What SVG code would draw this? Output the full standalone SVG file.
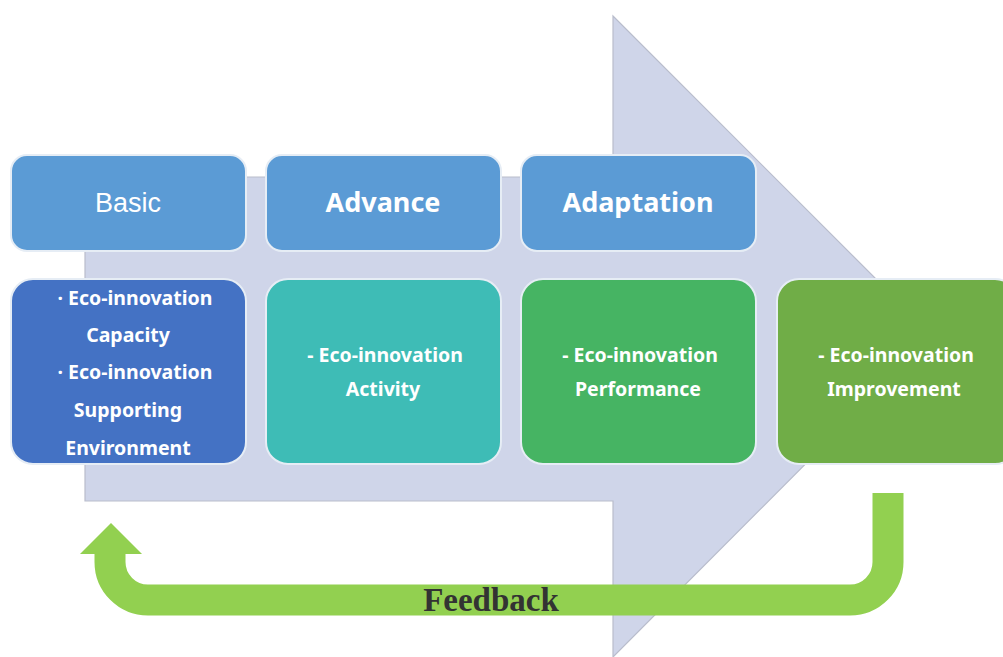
<svg xmlns="http://www.w3.org/2000/svg" width="1003" height="657" viewBox="0 0 1003 657">
<style>
.box{stroke:#e6edf5;stroke-width:2}
.top{fill:#5b9bd5}
.hd{font-family:"Noto Sans","Liberation Sans",sans-serif;font-weight:bold;font-size:27px;fill:#ffffff;text-anchor:middle}
.bd{font-family:"Noto Sans","Liberation Sans",sans-serif;font-weight:bold;font-size:19.5px;fill:#ffffff;text-anchor:middle}
</style>
<rect width="1003" height="657" fill="#ffffff"/>
<g id="bigarrow">
<polygon points="85,177 613,177 613,16 933,336 613,657 613,501 85,501" fill="#cfd5e9" stroke="#b9bdcc" stroke-width="1.2"/>
</g>
<g id="connectors">
<path d="M888,493 V562 A38,38 0 0 1 850,600 H148 A38,38 0 0 1 110,562 V552" fill="none" stroke="#92d050" stroke-width="31"/>
<polygon points="80,554 111,523 142,554" fill="#92d050"/>
<text x="491" y="611" font-family="Liberation Serif,serif" font-weight="bold" font-size="33" fill="#333333" text-anchor="middle">Feedback</text>
</g>
<g id="basic">
<rect class="box top" x="11" y="155" width="235" height="96" rx="16"/>
<text x="128" y="212" font-family="Liberation Sans,Arial,sans-serif" font-size="27" fill="#ffffff" text-anchor="middle">Basic</text>
</g>
<g id="advance">
<rect class="box top" x="266" y="155" width="235" height="96" rx="16"/>
<text class="hd" x="383" y="212">Advance</text>
</g>
<g id="adaptation">
<rect class="box top" x="521" y="155" width="235" height="96" rx="16"/>
<text class="hd" x="638" y="212">Adaptation</text>
</g>
<g id="capacity">
<rect class="box" x="11" y="279" width="235" height="185" rx="22" fill="#4472c4"/>
<text class="bd" x="135" y="305">· Eco-innovation</text>
<text class="bd" x="128" y="342">Capacity</text>
<text class="bd" x="135" y="379">· Eco-innovation</text>
<text class="bd" x="128" y="417">Supporting</text>
<text class="bd" x="128" y="455">Environment</text>
</g>
<g id="activity">
<rect class="box" x="266" y="279" width="235" height="185" rx="22" fill="#3ebcb6"/>
<text class="bd" x="385" y="362">- Eco-innovation</text>
<text class="bd" x="383" y="396">Activity</text>
</g>
<g id="performance">
<rect class="box" x="521" y="279" width="235" height="185" rx="22" fill="#46b463"/>
<text class="bd" x="640" y="362">- Eco-innovation</text>
<text class="bd" x="638" y="396">Performance</text>
</g>
<g id="improvement">
<rect class="box" x="777" y="279" width="240" height="185" rx="22" fill="#70ad47"/>
<text class="bd" x="896" y="362">- Eco-innovation</text>
<text class="bd" x="894" y="396">Improvement</text>
</g>
</svg>
